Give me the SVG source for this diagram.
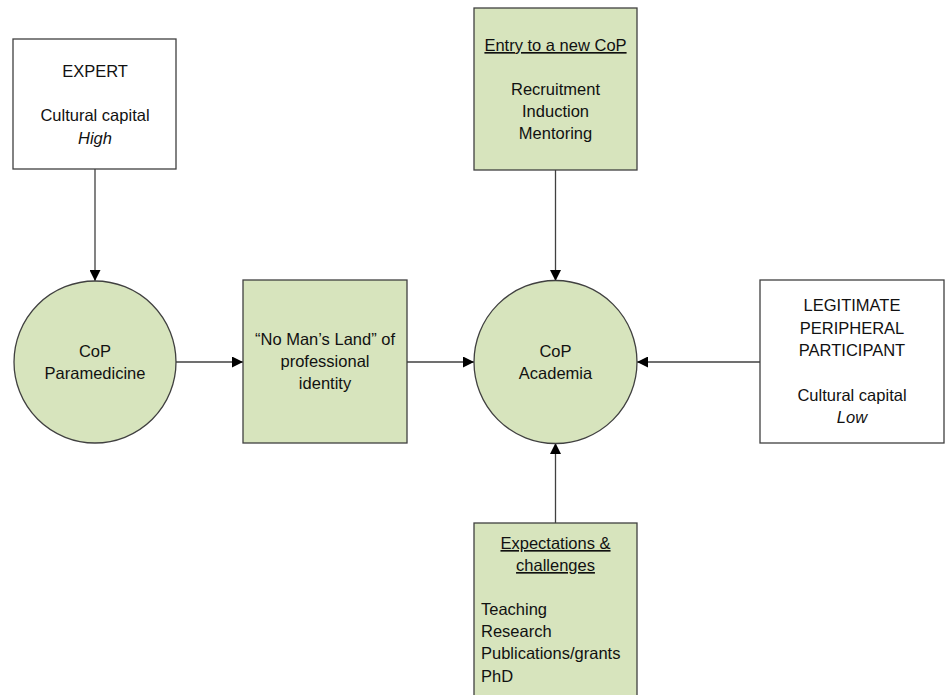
<svg xmlns="http://www.w3.org/2000/svg" width="946" height="695" viewBox="0 0 946 695">
<style>
.box{stroke:#404040;stroke-width:1.3}
.g{fill:#d7e4bd}
.w{fill:#ffffff}
text{font-family:"Liberation Sans","Open Sans",sans-serif;font-size:16.5px;fill:#111}
.c{text-anchor:middle}
.u{text-decoration:underline}
.i{font-style:italic}
.con{stroke:#404040;stroke-width:1.3;fill:none;marker-end:url(#ah)}
</style>
<defs>
<marker id="ah" viewBox="0 0 10 10" refX="10" refY="5" markerWidth="13" markerHeight="11" markerUnits="userSpaceOnUse" orient="auto">
<path d="M0,0 L10,5 L0,10 z" fill="#000"/>
</marker>
</defs>
<rect width="946" height="695" fill="#fff"/>
<g id="connectors">
<line class="con" x1="95" y1="169" x2="95" y2="281"/>
<line class="con" x1="176" y1="362" x2="243" y2="362"/>
<line class="con" x1="407" y1="362" x2="474" y2="362"/>
<line class="con" x1="555.5" y1="170" x2="555.5" y2="281"/>
<line class="con" x1="760" y1="362" x2="637" y2="362"/>
<line class="con" x1="555.5" y1="523" x2="555.5" y2="443"/>
</g>
<g id="expert">
<rect class="box w" x="13" y="39" width="163" height="130"/>
<text class="c" x="95" y="77">EXPERT</text>
<text class="c" x="95" y="121">Cultural capital</text>
<text class="c i" x="95" y="144">High</text>
</g>
<g id="entry">
<rect class="box g" x="474" y="8" width="163" height="162"/>
<text class="c u" x="555.5" y="51">Entry to a new CoP</text>
<text class="c" x="555.5" y="95">Recruitment</text>
<text class="c" x="555.5" y="117">Induction</text>
<text class="c" x="555.5" y="139">Mentoring</text>
</g>
<g id="paramedicine">
<circle class="box g" cx="95" cy="362" r="81"/>
<text class="c" x="95" y="357">CoP</text>
<text class="c" x="95" y="379">Paramedicine</text>
</g>
<g id="nomansland">
<rect class="box g" x="243" y="280" width="164" height="163"/>
<text class="c" x="325" y="345">“No Man’s Land” of</text>
<text class="c" x="325" y="367">professional</text>
<text class="c" x="325" y="389">identity</text>
</g>
<g id="academia">
<circle class="box g" cx="555.5" cy="362" r="81.5"/>
<text class="c" x="555.5" y="357">CoP</text>
<text class="c" x="555.5" y="379">Academia</text>
</g>
<g id="lpp">
<rect class="box w" x="760" y="280" width="184" height="163"/>
<text class="c" x="852" y="311">LEGITIMATE</text>
<text class="c" x="852" y="334">PERIPHERAL</text>
<text class="c" x="852" y="356">PARTICIPANT</text>
<text class="c" x="852" y="401">Cultural capital</text>
<text class="c i" x="852" y="423">Low</text>
</g>
<g id="expectations">
<rect class="box g" x="474" y="523" width="163" height="180"/>
<text class="c u" x="555.5" y="549">Expectations &amp;</text>
<text class="c u" x="555.5" y="571">challenges</text>
<text x="481" y="615">Teaching</text>
<text x="481" y="637">Research</text>
<text x="481" y="659">Publications/grants</text>
<text x="481" y="682">PhD</text>
</g>
</svg>
